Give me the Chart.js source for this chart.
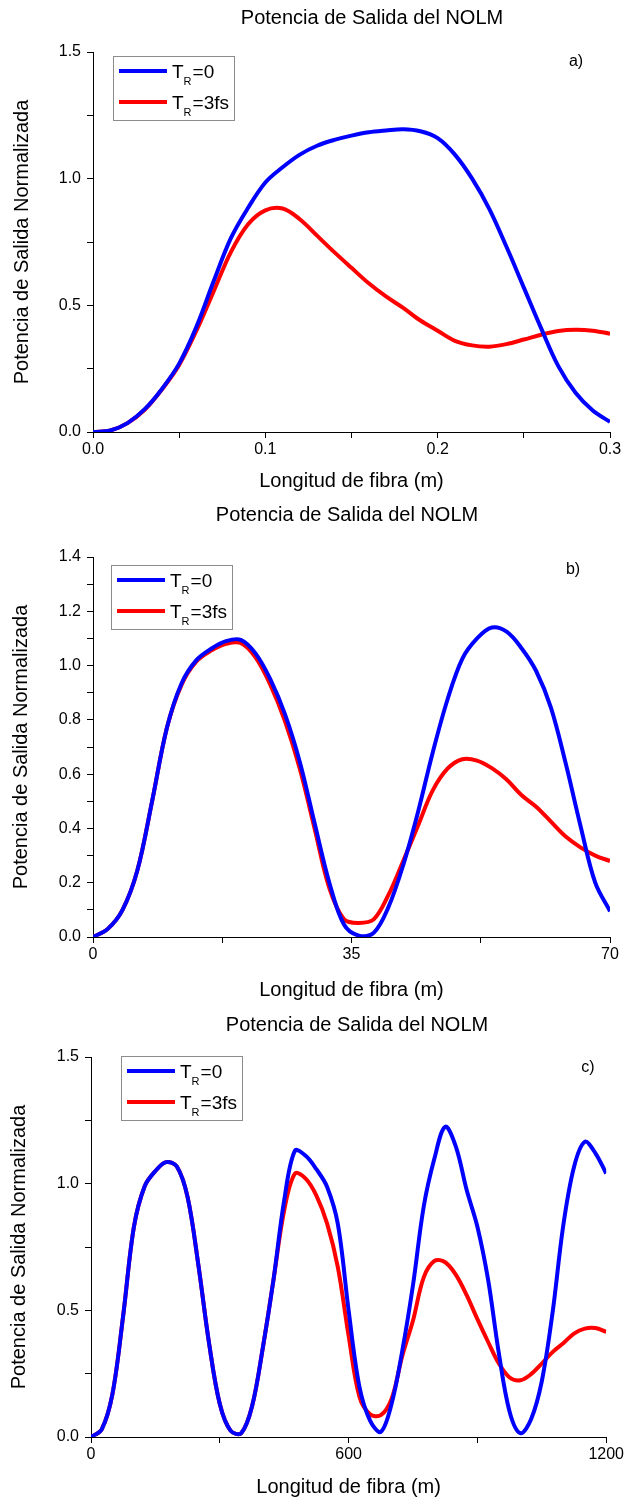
<!DOCTYPE html>
<html>
<head>
<meta charset="utf-8">
<script src="https://cdn.jsdelivr.net/npm/chart.js@4.4.1/dist/chart.umd.min.js"></script>
<style>
  body { margin: 0; background: #fff; }
  #wrap { position: relative; width: 626px; height: 1499px; }
  canvas { position: absolute; left: 0; }
</style>
</head>
<body>
<div id="wrap">
  <canvas id="chartA" width="626" height="500" style="top:0px"></canvas>
  <canvas id="chartB" width="626" height="500" style="top:500px"></canvas>
  <canvas id="chartC" width="626" height="499" style="top:1000px"></canvas>
</div>
<script>
const seriesLabels = ['T_R=0', 'T_R=3fs'];
const chartTitle = 'Potencia de Salida del NOLM';
const xTitle = 'Longitud de fibra (m)';
const yTitle = 'Potencia de Salida Normalizada';

// panel a) 0 - 0.3 m
const xA = [0, 0.01, 0.02, 0.03, 0.04, 0.05, 0.06, 0.07, 0.08, 0.09, 0.10, 0.11, 0.12, 0.13, 0.14, 0.15,
  0.16, 0.17, 0.18, 0.19, 0.20, 0.21, 0.22, 0.23, 0.24, 0.25, 0.26, 0.27, 0.28, 0.29, 0.30];
const blueA = [0, 0.006, 0.035, 0.09, 0.17, 0.27, 0.415, 0.595, 0.765, 0.885, 0.985, 1.045, 1.095, 1.13, 1.153, 1.17,
  1.183, 1.19, 1.195, 1.187, 1.16, 1.095, 1.0, 0.88, 0.73, 0.57, 0.41, 0.26, 0.155, 0.085, 0.04];
const redA = [0, 0.006, 0.035, 0.088, 0.168, 0.265, 0.40, 0.555, 0.71, 0.82, 0.875, 0.882, 0.84, 0.775, 0.71, 0.648,
  0.587, 0.535, 0.49, 0.44, 0.40, 0.36, 0.342, 0.337, 0.347, 0.365, 0.384, 0.399, 0.404, 0.40, 0.388];

// panel b) 0 - 70 m
const xB = [0, 2, 4, 6, 8, 10, 12, 14, 16, 18, 20, 22, 24, 26, 28, 30, 32, 34, 36, 38,
  40, 42, 44, 46, 48, 50, 52, 54, 56, 58, 60, 62, 64, 66, 68, 70];
const blueB = [0, 0.03, 0.10, 0.245, 0.50, 0.77, 0.935, 1.02, 1.062, 1.09, 1.095, 1.045, 0.95, 0.82, 0.645, 0.42, 0.20, 0.045, 0.005, 0.015,
  0.11, 0.265, 0.46, 0.68, 0.875, 1.025, 1.10, 1.14, 1.125, 1.065, 0.98, 0.845, 0.64, 0.41, 0.20, 0.095];
const redB = [0, 0.03, 0.10, 0.245, 0.50, 0.77, 0.93, 1.015, 1.055, 1.08, 1.083, 1.03, 0.93, 0.795, 0.62, 0.40, 0.18, 0.065, 0.052, 0.065,
  0.155, 0.28, 0.41, 0.54, 0.62, 0.655, 0.65, 0.622, 0.58, 0.523, 0.48, 0.425, 0.37, 0.33, 0.30, 0.28];

// panel c) 0 - 1200 m
const xC = [0, 25, 50, 75, 100, 125, 150, 175, 200, 225, 250, 275, 300, 325, 350, 375, 400, 425, 450, 475,
  500, 525, 550, 575, 600, 625, 650, 675, 700, 725, 750, 775, 800, 825, 850, 875, 900, 925, 950, 975,
  1000, 1025, 1050, 1075, 1100, 1125, 1150, 1175, 1200];
const blueC = [0, 0.03, 0.17, 0.48, 0.83, 0.99, 1.05, 1.085, 1.068, 0.947, 0.68, 0.37, 0.13, 0.025, 0.015, 0.12, 0.35, 0.62, 0.934, 1.13,
  1.11, 1.057, 0.987, 0.84, 0.50, 0.20, 0.065, 0.02, 0.13, 0.34, 0.60, 0.91, 1.10, 1.225, 1.145, 0.975, 0.83, 0.62, 0.33, 0.10,
  0.015, 0.07, 0.22, 0.49, 0.835, 1.066, 1.165, 1.12, 1.04];
const redC = [0, 0.03, 0.17, 0.48, 0.83, 0.99, 1.05, 1.085, 1.068, 0.947, 0.68, 0.37, 0.13, 0.025, 0.015, 0.12, 0.35, 0.62, 0.895, 1.04,
  1.02, 0.953, 0.842, 0.67, 0.40, 0.16, 0.09, 0.086, 0.15, 0.32, 0.46, 0.63, 0.695, 0.69, 0.64, 0.56, 0.465, 0.375, 0.29, 0.235,
  0.224, 0.248, 0.29, 0.335, 0.37, 0.408, 0.428, 0.43, 0.415];

const FONT = '"Liberation Sans", Arial, sans-serif';
Chart.defaults.font.family = FONT;
Chart.defaults.color = '#000';

// title + "a)" tag
const panelText = {
  id: 'panelText',
  afterDraw(chart, args, opts) {
    const ctx = chart.ctx;
    ctx.save();
    ctx.fillStyle = '#000';
    ctx.textAlign = 'center';
    ctx.textBaseline = 'middle';
    ctx.font = '20px ' + FONT;
    ctx.fillText(opts.title, opts.titleX, opts.titleY);
    ctx.font = '16px ' + FONT;
    ctx.fillText(opts.tag, opts.tagX, opts.tagY);
    ctx.restore();
  }
};

// legend with subscript R
const subLegend = {
  id: 'subLegend',
  afterDraw(chart, args, opts) {
    const ctx = chart.ctx;
    const x = opts.x, y = opts.y;
    ctx.save();
    ctx.strokeStyle = '#8c8c8c';
    ctx.lineWidth = 1;
    ctx.strokeRect(x + 0.5, y + 0.5, 121, 64);
    chart.data.datasets.forEach((ds, i) => {
      const ly = y + 15 + i * 31;
      ctx.strokeStyle = ds.borderColor;
      ctx.lineWidth = 4;
      ctx.beginPath();
      ctx.moveTo(x + 6, ly);
      ctx.lineTo(x + 54, ly);
      ctx.stroke();
      const parts = ds.label.split('_R');
      ctx.fillStyle = '#000';
      ctx.textAlign = 'left';
      ctx.textBaseline = 'alphabetic';
      let tx = x + 59;
      ctx.font = '19px ' + FONT;
      ctx.fillText(parts[0], tx, ly + 7);
      tx += ctx.measureText(parts[0]).width;
      ctx.font = '11px ' + FONT;
      ctx.fillText('R', tx, ly + 14);
      tx += ctx.measureText('R').width + 1;
      ctx.font = '19px ' + FONT;
      ctx.fillText(parts[1], tx, ly + 7);
    });
    ctx.restore();
  }
};

function onStep(v, step) {
  const r = v / step;
  return Math.abs(r - Math.round(r)) < 1e-6;
}

function makeChart(id, xs, blue, red, c) {
  const ctx = document.getElementById(id).getContext('2d');
  return new Chart(ctx, {
    type: 'line',
    data: {
      datasets: [
        { label: seriesLabels[0], data: xs.map((x, i) => ({ x: x, y: blue[i] })), borderColor: '#0000ff' },
        { label: seriesLabels[1], data: xs.map((x, i) => ({ x: x, y: red[i] })), borderColor: '#ff0000' }
      ]
    },
    options: {
      responsive: false,
      animation: false,
      devicePixelRatio: 1,
      elements: {
        point: { radius: 0 },
        line: { borderWidth: 4, tension: 0.35, fill: false, borderJoinStyle: 'round' }
      },
      layout: { padding: { top: c.top, right: c.w - c.right, left: 0, bottom: 0 } },
      scales: {
        x: {
          type: 'linear',
          min: c.xMin, max: c.xMax,
          ticks: {
            stepSize: c.xStep, autoSkip: false, maxRotation: 0, padding: 2,
            color: '#000', font: { size: 16 },
            callback: v => onStep(v, c.xMajor) ? v.toFixed(c.xDec) : ''
          },
          grid: { drawOnChartArea: false, tickLength: 6, tickColor: '#000', color: '#000' },
          border: { color: '#000', width: 1 },
          title: { display: true, text: xTitle, color: '#000', font: { size: 20, lineHeight: 1 },
            padding: { top: 0, bottom: c.xTitlePad } },
          afterFit: s => { s.height = c.h - c.bottom; }
        },
        y: {
          min: 0, max: c.yMax,
          ticks: {
            stepSize: c.yStep, autoSkip: false, padding: 6,
            color: '#000', font: { size: 16 },
            callback: v => onStep(v, c.yMajor) ? v.toFixed(1) : ''
          },
          grid: { drawOnChartArea: false, tickLength: 6, tickColor: '#000', color: '#000' },
          border: { color: '#000', width: 1 },
          title: { display: true, text: yTitle, color: '#000', font: { size: 20, lineHeight: 1 },
            padding: { top: c.yTitlePad, bottom: 0 } },
          afterFit: s => { s.width = c.left; }
        }
      },
      plugins: {
        legend: { display: false },
        tooltip: { enabled: false },
        panelText: { title: chartTitle, titleX: c.titleX, titleY: c.titleY, tag: c.tag, tagX: c.tagX, tagY: c.tagY },
        subLegend: { x: c.legX, y: c.legY }
      }
    },
    plugins: [panelText, subLegend]
  });
}

makeChart('chartA', xA, blueA, redA, {
  w: 626, h: 500, left: 93, right: 610, top: 52, bottom: 432,
  xMin: 0, xMax: 0.3, xStep: 0.05, xMajor: 0.1, xDec: 1,
  yMax: 1.5, yStep: 0.25, yMajor: 0.5,
  xTitlePad: 9, yTitlePad: 12,
  titleX: 372, titleY: 18, tag: 'a)', tagX: 576, tagY: 62,
  legX: 113, legY: 56
});

makeChart('chartB', xB, blueB, redB, {
  w: 626, h: 500, left: 93, right: 610, top: 57, bottom: 437,
  xMin: 0, xMax: 70, xStep: 17.5, xMajor: 35, xDec: 0,
  yMax: 1.4, yStep: 0.1, yMajor: 0.2,
  xTitlePad: 0, yTitlePad: 11,
  titleX: 347, titleY: 15, tag: 'b)', tagX: 573, tagY: 70,
  legX: 111, legY: 65
});

makeChart('chartC', xC, blueC, redC, {
  w: 626, h: 499, left: 91, right: 608, top: 57, bottom: 437,
  xMin: 0, xMax: 1200, xStep: 300, xMajor: 600, xDec: 0,
  yMax: 1.5, yStep: 0.25, yMajor: 0.5,
  xTitlePad: 2, yTitlePad: 9,
  titleX: 357, titleY: 25, tag: 'c)', tagX: 588, tagY: 68,
  legX: 121, legY: 56
});
</script>
</body>
</html>
